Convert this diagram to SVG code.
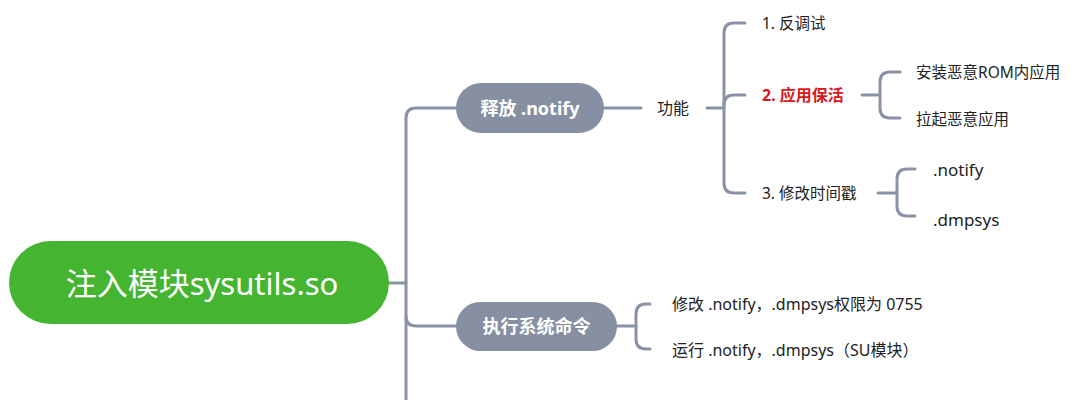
<svg xmlns="http://www.w3.org/2000/svg" width="1091" height="400" viewBox="0 0 1091 400">
<style>
.ln{fill:none;stroke:#8a93a5;stroke-width:3;stroke-linecap:round;stroke-linejoin:round}
.t{font-family:"Noto Sans","Noto Sans CJK SC",sans-serif;fill:#222;dominant-baseline:central}
.nt{font-family:"Noto Sans","Noto Sans CJK SC",sans-serif;fill:#fff;font-weight:bold;font-size:18px;text-anchor:middle;dominant-baseline:central}
</style>
<rect width="1091" height="400" fill="#fff"/>
<g id="connectors">
<path class="ln" d="M389 283 H406"/>
<path class="ln" d="M456 108 H416 Q406 108 406 118 V400"/>
<path class="ln" d="M456 326 H416 Q406 326 406 316"/>
<path class="ln" d="M604 108 H641"/>
<path class="ln" d="M707 108 H724"/>
<path class="ln" d="M745 23 H734 Q724 23 724 33 V183 Q724 193 734 193 H745"/>
<path class="ln" d="M724 105 Q724 95 734 95 H745"/>
<path class="ln" d="M862 95 H880"/>
<path class="ln" d="M900 72 H890 Q880 72 880 82 V108 Q880 118 890 118 H900"/>
<path class="ln" d="M878 193 H897"/>
<path class="ln" d="M915 169 H907 Q897 169 897 179 V206 Q897 216 907 216 H915"/>
<path class="ln" d="M617 326 H636"/>
<path class="ln" d="M650 304 H646 Q636 304 636 314 V339 Q636 349 646 349 H650"/>
</g>
<g id="root">
<rect x="9" y="241" width="380" height="83" rx="41.5" fill="#45b531"/>
<text x="202" y="283" font-family="'Noto Sans','Noto Sans CJK SC',sans-serif" font-size="31" fill="#fff" text-anchor="middle" dominant-baseline="central">注入模块sysutils.so</text>
</g>
<g id="n-release">
<rect x="456" y="83" width="148" height="50" rx="25" fill="#8690a2"/>
<text class="nt" x="530" y="108" font-size="17">释放 .notify</text>
</g>
<g id="n-func"><text class="t" x="657" y="108" font-size="16">功能</text></g>
<g id="n-1"><text class="t" x="762" y="23" font-size="15.5">1. 反调试</text></g>
<g id="n-2"><text class="t" x="762" y="95" font-size="16" font-weight="bold" style="fill:#d7191c">2. 应用保活</text></g>
<g id="n-3"><text class="t" x="762" y="193" font-size="15.5">3. 修改时间戳</text></g>
<g id="n-2a"><text class="t" x="916" y="72" font-size="15.5">安装恶意ROM内应用</text></g>
<g id="n-2b"><text class="t" x="916" y="119" font-size="15.5">拉起恶意应用</text></g>
<g id="n-3a"><text class="t" x="933" y="169" font-size="17">.notify</text></g>
<g id="n-3b"><text class="t" x="933" y="219" font-size="17">.dmpsys</text></g>
<g id="n-exec">
<rect x="456" y="302" width="161" height="49" rx="24.5" fill="#8690a2"/>
<text class="nt" x="536.5" y="326">执行系统命令</text>
</g>
<g id="n-e1"><text class="t" x="672" y="304" font-size="16">修改 .notify，.dmpsys权限为 0755</text></g>
<g id="n-e2"><text class="t" x="672" y="350" font-size="16">运行 .notify，.dmpsys（SU模块）</text></g>
</svg>
